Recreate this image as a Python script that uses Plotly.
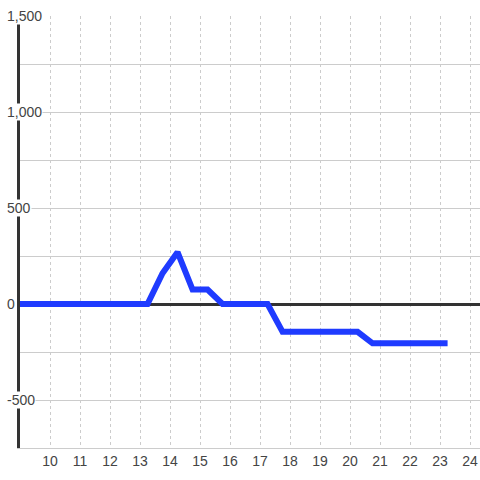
import plotly.graph_objects as go

# hour of day vs. value
hours = [9, 13.25, 13.75, 14.25, 14.75, 15.25, 15.75, 17.25, 17.75, 20.25, 20.75, 23.25]
values = [0, 0, 160, 270, 75, 75, 0, 0, -145, -145, -205, -205]

x_ticks = list(range(10, 25))
y_labels = [1500, 1000, 500, 0, -500]

font = dict(family="Liberation Sans, Arial, sans-serif", size=14, color="#444")

fig = go.Figure()
fig.add_scatter(x=hours, y=values, mode="lines",
                line=dict(color="#1f3bff", width=6), showlegend=False,
                cliponaxis=False)

fig.update_xaxes(range=[9, 24.33], tickvals=x_ticks, ticks="",
                 showgrid=True, gridcolor="#ccc", griddash="dot", gridwidth=1,
                 showline=True, linecolor="#ccc", linewidth=1,
                 zeroline=False, tickfont=font, automargin=False,
                 ticklabeloverflow="allow")
fig.update_yaxes(range=[-750, 1500], dtick=250, showticklabels=False,
                 showgrid=True, gridcolor="#ccc", gridwidth=1,
                 zeroline=True, zerolinecolor="#333", zerolinewidth=3,
                 showline=True, linecolor="#333", linewidth=3,
                 automargin=False)

# y labels sit on top of the axis line with a background box
for v in y_labels:
    fig.add_annotation(x=-0.031, xref="paper", y=v, yref="y",
                       text=f"{v:,}", showarrow=False, xanchor="left",
                       yanchor="middle", font=font, bgcolor="white",
                       borderpad=0)

fig.update_layout(width=480, height=480, plot_bgcolor="white",
                  paper_bgcolor="white", hovermode=False,
                  margin=dict(l=20, r=0, t=16, b=32, autoexpand=False))

# drop the default page margin so the figure fills the window
fig.write_html("out.html", config={"displayModeBar": False},
               post_script="document.body.style.margin='0';"
                           "document.body.style.overflow='hidden';")
